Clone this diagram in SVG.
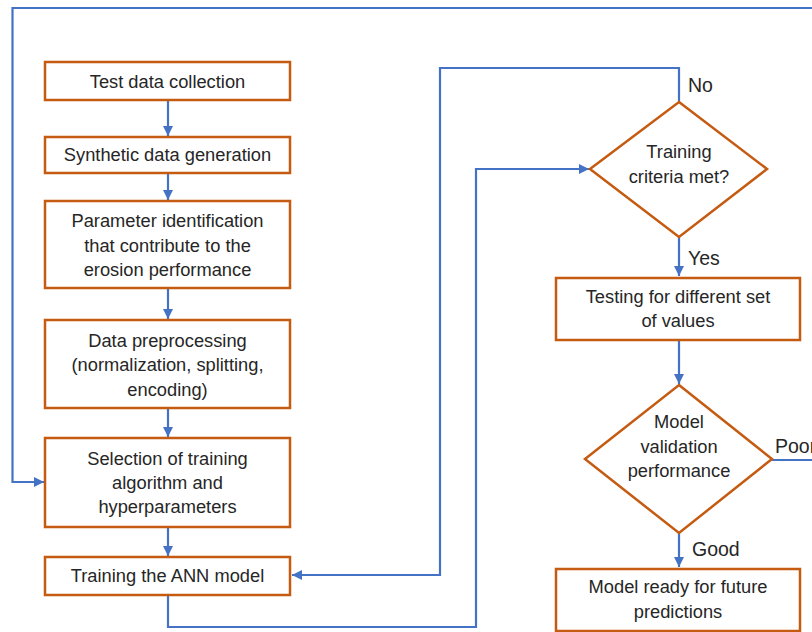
<svg xmlns="http://www.w3.org/2000/svg" width="812" height="632" viewBox="0 0 812 632">
<style>
.box{fill:#fff;stroke:#C55A11;stroke-width:2.5}
.t{font-family:"Liberation Sans",Arial,sans-serif;font-size:18.3px;fill:#262626;text-anchor:middle}
.lbl{font-family:"Liberation Sans",Arial,sans-serif;font-size:19.5px;fill:#262626}
.c{fill:none;stroke:#4472C4;stroke-width:2.2}
</style>
<defs>
<marker id="ah" viewBox="0 0 10 10" refX="10" refY="5" markerWidth="10" markerHeight="10" markerUnits="userSpaceOnUse" orient="auto">
<path d="M0,0 L10,5 L0,10 Z" fill="#4472C4"/>
</marker>
</defs>
<rect width="812" height="632" fill="#fff"/>
<g id="connectors">
<path class="c" d="M812,8 H12.5 V482 H44" marker-end="url(#ah)"/>
<path class="c" d="M168,100 V136" marker-end="url(#ah)"/>
<path class="c" d="M168,173 V200" marker-end="url(#ah)"/>
<path class="c" d="M168,288 V319" marker-end="url(#ah)"/>
<path class="c" d="M168,408 V437" marker-end="url(#ah)"/>
<path class="c" d="M168,527 V556" marker-end="url(#ah)"/>
<path class="c" d="M168,595 V627 H476 V169 H589" marker-end="url(#ah)"/>
<path class="c" d="M679,101 V68 H440 V575 H292" marker-end="url(#ah)"/>
<path class="c" d="M679,237 V276" marker-end="url(#ah)"/>
<path class="c" d="M679,340 V384" marker-end="url(#ah)"/>
<path class="c" d="M679,533 V567" marker-end="url(#ah)"/>
<path class="c" d="M772,460 H812"/>
</g>
<g id="n1"><rect class="box" x="45" y="62" width="245" height="38"/><text class="t" x="167.5" y="88">Test data collection</text></g>
<g id="n2"><rect class="box" x="45" y="137" width="245" height="36"/><text class="t" x="167.5" y="161">Synthetic data generation</text></g>
<g id="n3"><rect class="box" x="45" y="201" width="245" height="87"/><text class="t" x="167.5" y="227">Parameter identification</text><text class="t" x="167.5" y="252">that contribute to the</text><text class="t" x="167.5" y="276">erosion performance</text></g>
<g id="n4"><rect class="box" x="45" y="320" width="245" height="88"/><text class="t" x="167.5" y="347">Data preprocessing</text><text class="t" x="167.5" y="371">(normalization, splitting,</text><text class="t" x="167.5" y="396">encoding)</text></g>
<g id="n5"><rect class="box" x="45" y="438" width="245" height="89"/><text class="t" x="167.5" y="465">Selection of training</text><text class="t" x="167.5" y="489">algorithm and</text><text class="t" x="167.5" y="513">hyperparameters</text></g>
<g id="n6"><rect class="box" x="45" y="557" width="245" height="38"/><text class="t" x="167.5" y="582">Training the ANN model</text></g>
<g id="d1"><polygon class="box" points="679,102 767,169 679,237 590,169"/><text class="t" x="679" y="158">Training</text><text class="t" x="679" y="183">criteria met?</text></g>
<g id="n7"><rect class="box" x="556" y="278" width="244" height="62"/><text class="t" x="678" y="303">Testing for different set</text><text class="t" x="678" y="327">of values</text></g>
<g id="d2"><polygon class="box" points="679,385 772,459 679,533 585,459"/><text class="t" x="679" y="428">Model</text><text class="t" x="679" y="453">validation</text><text class="t" x="679" y="477">performance</text></g>
<g id="n8"><rect class="box" x="556" y="569" width="244" height="62"/><text class="t" x="678" y="593">Model ready for future</text><text class="t" x="678" y="618">predictions</text></g>
<g id="labels">
<text class="lbl" x="688" y="92">No</text>
<text class="lbl" x="688" y="265">Yes</text>
<text class="lbl" x="692" y="556">Good</text>
<text class="lbl" x="775" y="453">Poor</text>
</g>
</svg>
